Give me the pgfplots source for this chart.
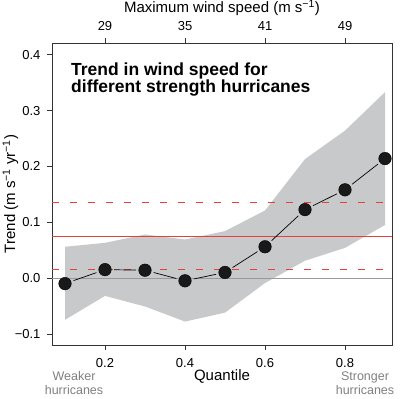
\documentclass[border=0pt]{standalone}
\usepackage{pgfplots}
\pgfplotsset{compat=1.18}
\usepgfplotslibrary{fillbetween}
\usepackage{fontspec}
\setmainfont{Liberation Sans}
\usetikzlibrary{calc}
\definecolor{bandgray}{HTML}{C8C9CB}
\definecolor{nred}{HTML}{E5403C}
\definecolor{axgray}{HTML}{333333}
\definecolor{lblgray}{HTML}{808080}
\definecolor{zerogray}{HTML}{999999}

\pgfplotstableread{
q mean lo hi
0.1 -0.010 -0.075 0.056
0.2 0.015 -0.032 0.063
0.3 0.014 -0.051 0.078
0.4 -0.005 -0.078 0.069
0.5 0.010 -0.062 0.084
0.6 0.056 -0.009 0.121
0.7 0.1225 0.031 0.213
0.8 0.158 0.054 0.264
0.9 0.214 0.095 0.333
}\trend

\begin{document}
\fontsize{13bp}{15bp}\selectfont
\begin{tikzpicture}
\pgfplotsset{
  common/.style={
    scale only axis, width=340bp, height=302bp,
    xmin=0.0675, xmax=0.9175, ymin=-0.12, ymax=0.421,
    tick align=outside, major tick length=5bp,
    every tick/.style={axgray, line width=0.6pt},
    tick label style={font=\fontsize{13bp}{15bp}\selectfont, text=black},
    label style={font=\fontsize{15bp}{17bp}\selectfont},
    /pgf/number format/assume math mode=true,
  }
}
\begin{axis}[common,
  name=ax,
  axis line style={axgray, line width=0.6pt},
  xtick pos=bottom, ytick pos=left,
  xtick={0.2,0.4,0.6,0.8},
  xticklabels={0.2,0.4,0.6,0.8},
  ytick={-0.1,0,0.1,0.2,0.3,0.4},
  yticklabels={−0.1,0.0,0.1,0.2,0.3,0.4},
  xticklabel style={anchor=base, yshift=-17bp},
  yticklabel style={anchor=east, xshift=-2bp},
  xlabel={Quantile},
  xlabel style={at={(axis description cs:0.5,0)}, anchor=base, yshift=-35bp},
  ylabel={Trend (m s\textsuperscript{−1} yr\textsuperscript{−1})},
  ylabel style={at={(axis description cs:0,0.5)}, anchor=base, rotate=0, xshift=0bp, yshift=37bp},
  clip=false,
  unbounded coords=jump,
]
\addplot[draw=none, name path=hi, forget plot] table[x=q, y=hi] {\trend};
\addplot[draw=none, name path=lo, forget plot] table[x=q, y=lo] {\trend};
\addplot[fill=bandgray, draw=none] fill between[of=hi and lo];
% zero line
\addplot[color=zerogray, line width=0.8pt] coordinates {(0.0675,0) (0.9175,0)};
% red reference lines
\addplot[color=nred, line width=1pt] coordinates {(0.0675,0.075) (0.9175,0.075)};
\addplot[color=nred, line width=1.1pt, dash pattern=on 7bp off 11bp] coordinates {(0.0675,0.1355) (0.9175,0.1355) (nan,nan) (0.0675,0.0155) (0.9175,0.0155)};
% connecting segments (gaps around points)
\pgfplotsforeachungrouped \i/\j in {0/1,1/2,2/3,3/4,4/5,5/6,6/7,7/8}{
  \pgfplotstablegetelem{\i}{q}\of\trend \let\xa\pgfplotsretval
  \pgfplotstablegetelem{\i}{mean}\of\trend \let\ya\pgfplotsretval
  \pgfplotstablegetelem{\j}{q}\of\trend \let\xb\pgfplotsretval
  \pgfplotstablegetelem{\j}{mean}\of\trend \let\yb\pgfplotsretval
  \edef\temp{\noexpand\addplot[color=black, line width=0.7pt, shorten >=9bp, shorten <=9bp] coordinates {(\xa,\ya) (\xb,\yb)};}
  \temp
}
\addplot[only marks, mark=*, mark size=6.3bp, mark options={fill=black!90, draw=none}] table[x=q, y=mean] {\trend};
\node[anchor=base west, align=left, inner sep=0pt, font=\fontsize{17.5bp}{17bp}\selectfont\bfseries] at (axis cs:0.115, 0.333) {Trend in wind speed for\\different strength hurricanes};
\end{axis}
\node[anchor=base, align=center, text=lblgray, font=\fontsize{12.5bp}{14bp}\selectfont] at ($(ax.south west)+(22bp,-49bp)$) {Weaker\\hurricanes};
\node[anchor=base, align=center, text=lblgray, font=\fontsize{12.5bp}{14bp}\selectfont] at ($(ax.south west)+(313bp,-49bp)$) {Stronger\\hurricanes};
\begin{axis}[common,
  axis x line*=top, axis y line=none,
  xtick={0.2,0.4,0.6,0.8},
  xticklabels={29,35,41,49},
  xticklabel style={anchor=base, yshift=7bp},
  xlabel={Maximum wind speed (m s\textsuperscript{−1})},
  xlabel style={at={(axis description cs:0.5,1)}, anchor=base, yshift=30bp},
  axis line style={draw=none},
]
\end{axis}
\pgfresetboundingbox
\path[use as bounding box] ($(ax.south west)+(-52bp,-53bp)$) rectangle ($(ax.north east)+(8bp,43bp)$);
\end{tikzpicture}
\end{document}
